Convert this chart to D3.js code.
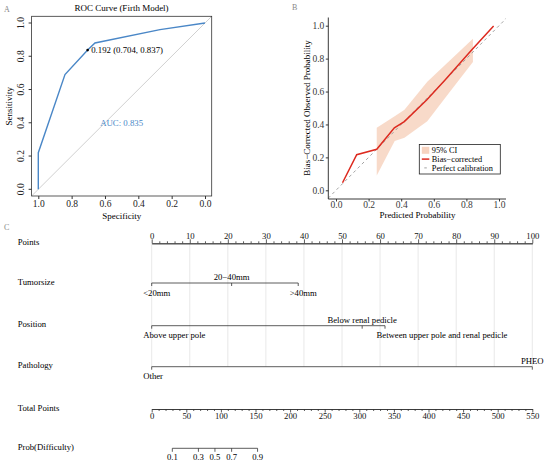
<!DOCTYPE html>
<html>
<head>
<meta charset="utf-8">
<script src="https://d3js.org/d3.v7.min.js"></script>
<style>
  body { margin: 0; background: #fff; }
  text { font-family: "Liberation Serif", "Times New Roman", serif; }
</style>
</head>
<body>
<div id="wrapper"></div>
<script>
// ---- panel A: ROC ----
const rocSpecificity = [1, 1, 0.84, 0.704, 0.66, 0.27, 0];
const rocSensitivity = [0, 0.22, 0.69, 0.837, 0.88, 0.96, 1];
const rocTicks = [0, 0.2, 0.4, 0.6, 0.8, 1.0];
const bestPoint = { spec: 0.704, sens: 0.837, label: "0.192 (0.704, 0.837)" };
const aucLabel = "AUC: 0.835";

// ---- panel B: calibration ----
const calPredicted = [0.04, 0.127, 0.25, 0.358, 0.419, 0.556, 0.669, 0.832, 0.967];
const calObserved = [0.046, 0.216, 0.249, 0.38, 0.417, 0.549, 0.67, 0.852, 0.998];
const ciPredicted = [0.25, 0.36, 0.42, 0.56, 0.70, 0.84];
const ciUpper = [0.38, 0.45, 0.49, 0.66, 0.79, 0.92];
const ciLower = [0.09, 0.30, 0.32, 0.42, 0.60, 0.78];
const calTicks = [0, 0.2, 0.4, 0.6, 0.8, 1.0];
const legendLabels = ["95% CI", "Bias\u2212corrected", "Perfect calibration"];

// ---- panel C: nomogram ----
const pointsMajor = [0, 10, 20, 30, 40, 50, 60, 70, 80, 90, 100];
const pointsMinor = [2, 4, 6, 8, 12, 14, 16, 18, 22, 24, 26, 28, 32, 34, 36, 38, 42, 44, 46, 48,
  52, 54, 56, 58, 62, 64, 66, 68, 72, 74, 76, 78, 82, 84, 86, 88, 92, 94, 96, 98];
const totalMajor = [0, 50, 100, 150, 200, 250, 300, 350, 400, 450, 500, 550];
const totalMinor = [10, 20, 30, 40, 60, 70, 80, 90, 110, 120, 130, 140, 160, 170, 180, 190,
  210, 220, 230, 240, 260, 270, 280, 290, 310, 320, 330, 340, 360, 370, 380, 390,
  410, 420, 430, 440, 460, 470, 480, 490, 510, 520, 530, 540];
const tumorLevels = ["<20mm", "20\u221240mm", ">40mm"];
const tumorPoints = [0, 21, 38.5];
const positionLevels = ["Above upper pole", "Below renal pedicle", "Between upper pole and renal pedicle"];
const positionPoints = [0, 55.3, 61.3];
const pathologyLevels = ["Other", "PHEO"];
const pathologyPoints = [0, 100];
const probLabels = ["0.1", "0.3", "0.5", "0.7", "0.9"];
const probTotalPoints = [29.8, 67.5, 91.4, 115.5, 153];

const svg = d3.select('#wrapper').append('svg')
  .attr('width', 550).attr('height', 467);

const panelTag = (x, y, t) => svg.append('text').attr('x', x).attr('y', y)
  .attr('font-size', 8).attr('fill', '#888').text(t);

// ================= A: ROC =================
panelTag(4, 12, 'A');
const ax = d3.scaleLinear().domain([1, 0]).range([38.3, 205]);
const ay = d3.scaleLinear().domain([0, 1]).range([189.3, 23]);
const boxA = { x0: 31.6, x1: 211.7, y0: 16.3, y1: 196 };

svg.append('clipPath').attr('id', 'clipA').append('rect')
  .attr('x', boxA.x0).attr('y', boxA.y0)
  .attr('width', boxA.x1 - boxA.x0).attr('height', boxA.y1 - boxA.y0);

// reference diagonal across the plot region
svg.append('line').attr('clip-path', 'url(#clipA)')
  .attr('x1', ax(1.1)).attr('y1', ay(-0.1)).attr('x2', ax(-0.1)).attr('y2', ay(1.1))
  .attr('stroke', '#d0d0d0').attr('stroke-width', 1);

const rocLine = d3.line().x(d => ax(d[0])).y(d => ay(d[1]));
svg.append('path')
  .attr('d', rocLine(rocSpecificity.map((s, i) => [s, rocSensitivity[i]])))
  .attr('fill', 'none').attr('stroke', '#4a87c7').attr('stroke-width', 1.4);

svg.append('circle').attr('cx', ax(bestPoint.spec)).attr('cy', ay(bestPoint.sens))
  .attr('r', 1.3).attr('fill', '#000');
svg.append('text').attr('x', ax(bestPoint.spec) + 3.5).attr('y', ay(bestPoint.sens) + 3)
  .attr('font-size', 8.8).text(bestPoint.label);
svg.append('text').attr('x', ax(0.5)).attr('y', ay(0.4) + 3)
  .attr('text-anchor', 'middle').attr('font-size', 8.8).attr('fill', '#4a87c7').text(aucLabel);

svg.append('rect').attr('x', boxA.x0).attr('y', boxA.y0)
  .attr('width', boxA.x1 - boxA.x0).attr('height', boxA.y1 - boxA.y0)
  .attr('fill', 'none').attr('stroke', '#333').attr('stroke-width', 0.8);

const axA = svg.append('g').attr('transform', `translate(0,${boxA.y1})`)
  .call(d3.axisBottom(ax).tickValues(rocTicks).tickFormat(d3.format('.1f')).tickSize(3).tickSizeOuter(0));
const ayA = svg.append('g').attr('transform', `translate(${boxA.x0},0)`)
  .call(d3.axisLeft(ay).tickValues(rocTicks).tickFormat(d3.format('.1f')).tickSize(3).tickSizeOuter(0));
[axA, ayA].forEach(g => {
  g.select('.domain').remove();
  g.selectAll('line').attr('stroke', '#333');
  g.selectAll('text').attr('font-size', 9.5).attr('fill', '#222');
});
axA.selectAll('text').attr('y', 4.5);
ayA.selectAll('text')
  .attr('transform', d => `rotate(-90, -11, ${ay(d)})`)
  .attr('x', -11).attr('y', ay).attr('dy', '0.32em')
  .attr('text-anchor', 'middle');
ayA.selectAll('.tick').attr('transform', null);
ayA.selectAll('.tick line').attr('y1', ay).attr('y2', ay);

svg.append('text').attr('x', 9.5).attr('y', ay(0.5)).attr('font-size', 9)
  .attr('text-anchor', 'middle').attr('transform', `rotate(-90, 9.5, ${ay(0.5)})`)
  .attr('dy', '0.32em').text('Sensitivity');
svg.append('text').attr('x', ax(0.5)).attr('y', 219).attr('font-size', 9)
  .attr('text-anchor', 'middle').text('Specificity');
svg.append('text').attr('x', 121.5).attr('y', 11).attr('font-size', 9)
  .attr('text-anchor', 'middle').text('ROC Curve (Firth Model)');

// ================= B: calibration =================
panelTag(292, 10, 'B');
const bx = d3.scaleLinear().domain([0, 1]).range([336, 499]);
const by = d3.scaleLinear().domain([0, 1]).range([190.3, 25.7]);
const panB = { x0: 328.3, x1: 506, y0: 17.5, y1: 199 };

svg.append('clipPath').attr('id', 'clipB').append('rect')
  .attr('x', panB.x0).attr('y', panB.y0)
  .attr('width', panB.x1 - panB.x0).attr('height', panB.y1 - panB.y0);

const band = d3.area()
  .x((d, i) => bx(ciPredicted[i]))
  .y0((d, i) => by(ciLower[i]))
  .y1((d, i) => by(ciUpper[i]));
svg.append('path').attr('d', band(ciPredicted))
  .attr('fill', '#f7d3c0').attr('opacity', 0.85);

svg.append('line').attr('clip-path', 'url(#clipB)')
  .attr('x1', bx(-0.1)).attr('y1', by(-0.1)).attr('x2', bx(1.1)).attr('y2', by(1.1))
  .attr('stroke', '#999').attr('stroke-width', 0.9).attr('stroke-dasharray', '3,3');

const calLine = d3.line().x(d => bx(d[0])).y(d => by(d[1]));
svg.append('path')
  .attr('d', calLine(calPredicted.map((p, i) => [p, calObserved[i]])))
  .attr('fill', 'none').attr('stroke', '#dd2a1f').attr('stroke-width', 1.5);

const bxA = svg.append('g').attr('transform', `translate(0,${panB.y1})`)
  .call(d3.axisBottom(bx).tickValues(calTicks).tickFormat(d3.format('.1f')).tickSize(2.5).tickSizeOuter(0));
const byA = svg.append('g').attr('transform', `translate(${panB.x0},0)`)
  .call(d3.axisLeft(by).tickValues(calTicks).tickFormat(d3.format('.1f')).tickSize(2.5).tickSizeOuter(0));
bxA.select('.domain').attr('d', `M${panB.x0},0H${panB.x1}`);
byA.select('.domain').attr('d', `M0,${panB.y0}V${panB.y1}`);
[bxA, byA].forEach(g => {
  g.selectAll('.domain, line').attr('stroke', '#222').attr('stroke-width', 0.9);
  g.selectAll('text').attr('font-size', 9.5).attr('fill', '#3a3a3a');
});
bxA.selectAll('text').attr('y', 2.5);
byA.selectAll('text').attr('x', -4);

svg.append('text').attr('x', bx(0.5)).attr('y', 217.5).attr('font-size', 9)
  .attr('text-anchor', 'middle').text('Predicted Probability');
svg.append('text').attr('x', 307.5).attr('y', by(0.5)).attr('font-size', 9)
  .attr('text-anchor', 'middle').attr('dy', '0.32em')
  .attr('transform', `rotate(-90, 307.5, ${by(0.5)})`)
  .text('Bias\u2212Corrected Observed Probability');

const legend = svg.append('g').attr('transform', 'translate(419.3,144.5)');
legend.append('rect').attr('width', 81).attr('height', 29.5)
  .attr('fill', '#fff').attr('stroke', '#222').attr('stroke-width', 0.8);
const rowY = [5.8, 14.6, 23.4];
legend.append('rect').attr('x', 2.5).attr('y', rowY[0] - 3.5).attr('width', 7.5).attr('height', 7)
  .attr('fill', '#f7d3c0');
legend.append('line').attr('x1', 2.5).attr('x2', 10).attr('y1', rowY[1]).attr('y2', rowY[1])
  .attr('stroke', '#dd2a1f').attr('stroke-width', 1.5);
legend.append('line').attr('x1', 5).attr('x2', 7.5).attr('y1', rowY[2]).attr('y2', rowY[2])
  .attr('stroke', '#999').attr('stroke-width', 0.9);
legend.selectAll('text.lab').data(legendLabels).join('text').attr('class', 'lab')
  .attr('x', 12.5).attr('y', (d, i) => rowY[i]).attr('dy', '0.32em')
  .attr('font-size', 8.3).text(d => d);

// ================= C: nomogram =================
panelTag(4, 230, 'C');
const xPts = d3.scaleLinear().domain([0, 100]).range([151.7, 532.3]);
const xTot = d3.scaleLinear().domain([0, 550]).range([151.7, 532.3]);
const rows = { points: 243.3, tumor: 283, position: 325.7, pathology: 366.7, total: 409, prob: 448.3 };
const fs = 8.7;

svg.append('g').selectAll('line').data(pointsMajor).join('line')
  .attr('x1', d => xPts(d)).attr('x2', d => xPts(d))
  .attr('y1', rows.points).attr('y2', rows.pathology)
  .attr('stroke', '#e2e2e2').attr('stroke-width', 0.8);

const rowLabels = [['Points', rows.points], ['Tumorsize', rows.tumor], ['Position', rows.position],
  ['Pathology', rows.pathology], ['Total Points', rows.total], ['Prob(Difficulty)', rows.prob]];
svg.append('g').selectAll('text').data(rowLabels).join('text')
  .attr('x', 17.7).attr('y', d => d[1]).attr('dy', '0.2em')
  .attr('font-size', fs).text(d => d[0]);

function styleAxis(g) {
  g.selectAll('.domain, line').attr('stroke', '#333').attr('stroke-width', 0.8);
  g.selectAll('text').attr('font-size', fs).attr('fill', '#111');
}

// Points axis (ticks up)
const pMinor = svg.append('g').attr('transform', `translate(0,${rows.points})`)
  .call(d3.axisTop(xPts).tickValues(pointsMinor).tickFormat('').tickSize(2).tickSizeOuter(0));
const pMajor = svg.append('g').attr('transform', `translate(0,${rows.points})`)
  .call(d3.axisTop(xPts).tickValues(pointsMajor).tickFormat(d3.format('d')).tickSize(4).tickSizeOuter(0));
styleAxis(pMinor); styleAxis(pMajor);
pMajor.selectAll('text').attr('y', -4.5);

// Total points axis (ticks down)
const tMinor = svg.append('g').attr('transform', `translate(0,${rows.total})`)
  .call(d3.axisBottom(xTot).tickValues(totalMinor).tickFormat('').tickSize(2).tickSizeOuter(0));
const tMajor = svg.append('g').attr('transform', `translate(0,${rows.total})`)
  .call(d3.axisBottom(xTot).tickValues(totalMajor).tickFormat(d3.format('d')).tickSize(3.5).tickSizeOuter(0));
styleAxis(tMinor); styleAxis(tMajor);
tMajor.selectAll('text').attr('y', 4);

// Prob axis
const probScale = d3.scaleOrdinal().domain(probLabels).range(probTotalPoints.map(v => xTot(v)));
const pr = svg.append('g').attr('transform', `translate(0,${rows.prob})`);
pr.append('line').attr('x1', probScale(probLabels[0])).attr('x2', probScale(probLabels[probLabels.length - 1]))
  .attr('stroke', '#333').attr('stroke-width', 0.8);
pr.selectAll('line.tk').data(probLabels).join('line').attr('class', 'tk')
  .attr('x1', d => probScale(d)).attr('x2', d => probScale(d)).attr('y1', 0).attr('y2', 3.5)
  .attr('stroke', '#333').attr('stroke-width', 0.8);
pr.selectAll('text').data(probLabels).join('text')
  .attr('x', d => probScale(d)).attr('y', 12).attr('text-anchor', 'middle')
  .attr('font-size', fs).text(d => d);

// categorical predictor rows
function drawFactor(levels, pts, y) {
  const g = svg.append('g').attr('transform', `translate(0,${y})`);
  g.append('line').attr('x1', xPts(d3.min(pts))).attr('x2', xPts(d3.max(pts)))
    .attr('stroke', '#333').attr('stroke-width', 0.8);
  g.selectAll('line.tk').data(pts).join('line').attr('class', 'tk')
    .attr('x1', d => xPts(d)).attr('x2', d => xPts(d)).attr('y1', 0).attr('y2', 3)
    .attr('stroke', '#333').attr('stroke-width', 0.8);
  g.selectAll('text').data(levels).join('text')
    .attr('x', (d, i) => i % 2 === 1 ? xPts(pts[i]) : xPts(pts[i]) - 8.5)
    .attr('y', (d, i) => i % 2 === 1 ? -3 : 12.5)
    .attr('text-anchor', (d, i) => i % 2 === 1 ? 'middle' : 'start')
    .attr('font-size', fs).text(d => d);
}
drawFactor(tumorLevels, tumorPoints, rows.tumor);
drawFactor(positionLevels, positionPoints, rows.position);
drawFactor(pathologyLevels, pathologyPoints, rows.pathology);
</script>
</body>
</html>
